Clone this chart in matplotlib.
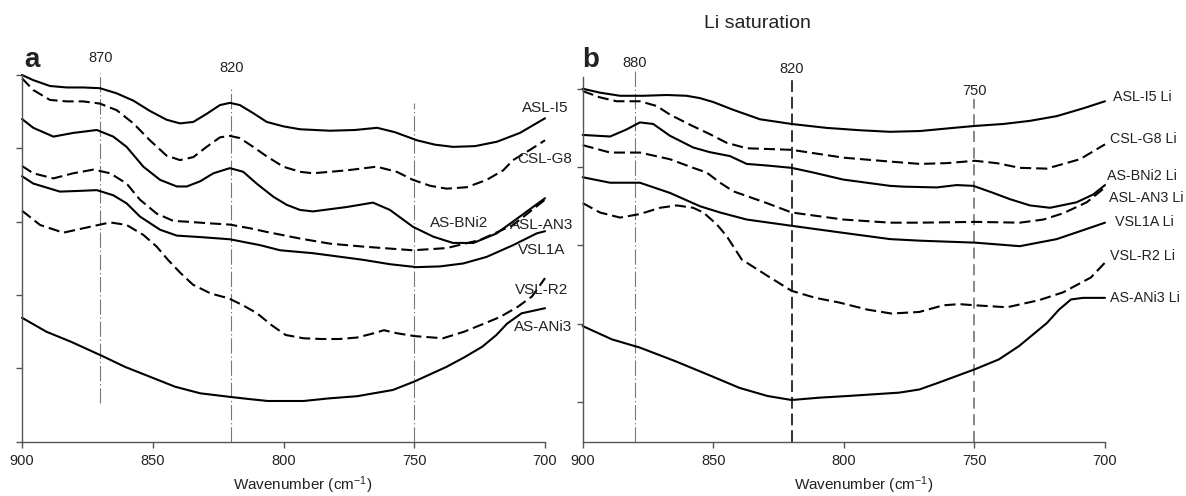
import matplotlib
matplotlib.use('agg')
import matplotlib.pyplot as plt

plt.rcParams['font.family'] = ['Liberation Sans', 'DejaVu Sans']
plt.rcParams['lines.scale_dashes'] = False
plt.rcParams['mathtext.default'] = 'regular'

# ---- panel a : untreated samples (wavenumber, relative absorbance) ----
a_names = ['ASL-I5', 'CSL-G8', 'AS-BNi2', 'ASL-AN3', 'VSL1A', 'VSL-R2', 'AS-ANi3']
a_dashed = [False, True, False, True, False, True, False]
a_wn = [
    [900, 895.7, 889.3, 882.9, 876.6, 870.2, 863.8, 857.4, 851.1, 844.7, 839.6, 834.5, 829.4, 824.3,
     820.5, 816.7, 811.6, 806.4, 800.1, 793.7, 782.2, 772.7, 764.2, 757.4, 749, 742.1, 735.2, 726.8,
     718.4, 709.6, 700],
    [900, 895.7, 889.3, 882.9, 876.6, 870.2, 863.8, 857.4, 851.1, 844.7, 839.6, 834.5, 829.4, 824.3,
     820.5, 816.7, 811.6, 806.4, 800.1, 793.7, 788.7, 775.8, 764.4, 756.7, 750.5, 744, 737.6, 729.9,
     722.3, 716, 712.2, 705.7, 700],
    [900, 895.7, 888, 880.4, 871.4, 865.1, 860, 853.6, 847.2, 840.8, 837, 831.9, 826.8, 820.5, 815.4,
     810.3, 803.9, 798.8, 793.7, 788.7, 775.8, 765.8, 759.3, 750.5, 742.7, 735.2, 727.4, 718.5, 709.6, 700],
    [900, 895.7, 888, 880.4, 872.7, 866.3, 860, 854.9, 848.5, 842.1, 837, 829.4, 820.5, 812.8, 806.4,
     793.7, 782.2, 769.5, 750.5, 737.6, 724.9, 712.2, 700],
    [900, 895.7, 885.5, 877.8, 871.4, 865.1, 860, 854.9, 847.2, 840.8, 831.9, 820.5, 809, 801.3, 788.7,
     769.6, 759.3, 749.1, 740.2, 731.3, 722.3, 712.2, 703.2, 700],
    [900, 893.1, 884.2, 875.3, 866.3, 860, 853.6, 848.5, 844.2, 839.4, 834.6, 827.8, 821, 815.5, 810.1,
     804.6, 799.2, 792.3, 785.5, 778.7, 771.9, 766.4, 761.6, 756.8, 750, 739, 730.9, 724, 717.2, 710.4,
     705, 700],
    [900, 890.7, 881.1, 868.8, 860.6, 851.1, 841.5, 831.9, 820.3, 812.8, 806, 792.3, 782.8, 771.9, 758.2,
     750, 737.7, 730.9, 724, 718.6, 714.5, 709, 700],
]
a_abs = [
    [5.00, 4.93, 4.85, 4.83, 4.83, 4.82, 4.75, 4.65, 4.51, 4.39, 4.34, 4.36, 4.47, 4.59,
     4.62, 4.59, 4.48, 4.36, 4.30, 4.26, 4.24, 4.25, 4.28, 4.22, 4.11, 4.05, 4.02, 4.03,
     4.09, 4.21, 4.41],
    [4.955, 4.795, 4.66, 4.64, 4.64, 4.61, 4.52, 4.34, 4.11, 3.90, 3.84, 3.88, 4.02, 4.15,
     4.17, 4.14, 4.02, 3.89, 3.75, 3.68, 3.66, 3.70, 3.75, 3.68, 3.57, 3.49, 3.45, 3.47,
     3.57, 3.70, 3.84, 3.98, 4.11],
    [4.40, 4.28, 4.16, 4.21, 4.25, 4.16, 4.02, 3.75, 3.57, 3.48, 3.48, 3.55, 3.66, 3.73, 3.68,
     3.52, 3.34, 3.23, 3.16, 3.14, 3.20, 3.26, 3.16, 2.93, 2.795, 2.71, 2.71, 2.84, 3.07, 3.32],
    [3.76, 3.66, 3.59, 3.66, 3.71, 3.66, 3.52, 3.30, 3.11, 3.01, 3.00, 2.98, 2.96, 2.91, 2.86,
     2.77, 2.70, 2.66, 2.61, 2.64, 2.75, 2.955, 3.30],
    [3.62, 3.52, 3.41, 3.42, 3.43, 3.36, 3.25, 3.07, 2.89, 2.81, 2.79, 2.76, 2.68, 2.61, 2.57,
     2.48, 2.42, 2.38, 2.39, 2.43, 2.52, 2.68, 2.84, 2.87],
    [3.15, 2.955, 2.85, 2.92, 2.99, 2.955, 2.82, 2.66, 2.48, 2.30, 2.14, 2.02, 1.955, 1.86, 1.75,
     1.59, 1.455, 1.41, 1.40, 1.40, 1.42, 1.47, 1.52, 1.48, 1.44, 1.41, 1.50, 1.60, 1.70, 1.84,
     1.98, 2.23],
    [1.69, 1.50, 1.36, 1.16, 1.02, 0.886, 0.75, 0.66, 0.61, 0.58, 0.555, 0.555, 0.59, 0.62, 0.705,
     0.82, 1.02, 1.15, 1.295, 1.455, 1.61, 1.75, 1.82],
]
a_bands = [870, 820, 750]
a_band_labels = ['870', '820', '']

# ---- panel b : Li saturated samples ----
b_names = ['ASL-I5 Li', 'CSL-G8 Li', 'AS-BNi2 Li', 'ASL-AN3 Li', 'VSL1A Li', 'VSL-R2 Li', 'AS-ANi3 Li']
b_dashed = [False, True, False, True, False, True, False]
b_wn = [
    [900, 893.4, 885.7, 876.8, 867.8, 860.2, 855.1, 850, 842.3, 832.1, 820, 806.6, 793.8, 782.3,
     770.8, 758.1, 749.8, 738.9, 728.7, 718.5, 708.3, 700],
    [900, 893.4, 887, 878.1, 871.7, 866.6, 858.9, 851.3, 844.9, 837.2, 820, 800.2, 782.3, 770.8,
     760.6, 749.8, 741.5, 732.6, 722.3, 709.6, 700],
    [900, 889.5, 883.2, 878.1, 873, 866.6, 857.7, 851.3, 843.6, 837.2, 829.5, 820, 811.7, 800.2,
     782.3, 777.2, 764.4, 756.8, 750.4, 742.8, 736.4, 728.7, 721, 710.9, 704.5, 700],
    [900, 889.5, 878.1, 866.6, 857.7, 852.5, 847.4, 842.3, 837.2, 829.5, 820, 800.2, 782.3, 770.8,
     749.8, 732.6, 723.6, 716, 707, 700],
    [900, 889.5, 878.1, 866.6, 855.1, 847.4, 837.2, 820, 800.2, 782.3, 770.8, 749.8, 732.6, 718.5,
     707, 700],
    [900, 893.4, 885.7, 878.1, 870.4, 864, 857.7, 853.8, 848.7, 844.9, 839.1, 829.2, 820, 810.9,
     801.7, 791, 781.8, 771.1, 761.9, 755.8, 749.7, 737.5, 725.3, 716.1, 705.4, 700],
    [900, 888.8, 878.1, 864.4, 850.6, 839.9, 829.2, 820, 809.3, 798.6, 778.8, 771.1, 763.5, 749.7,
     740.6, 732.9, 722.2, 717.6, 713, 708.4, 700],
]
b_abs = [
    [4.00, 3.95, 3.91, 3.91, 3.92, 3.91, 3.88, 3.83, 3.73, 3.61, 3.55, 3.50, 3.47, 3.45,
     3.46, 3.50, 3.525, 3.55, 3.59, 3.65, 3.75, 3.84],
    [3.97, 3.89, 3.84, 3.84, 3.78, 3.67, 3.54, 3.42, 3.31, 3.24, 3.22, 3.12, 3.07, 3.04,
     3.05, 3.08, 3.05, 2.99, 2.98, 3.10, 3.29],
    [3.41, 3.39, 3.48, 3.57, 3.55, 3.40, 3.25, 3.19, 3.14, 3.04, 3.02, 2.99, 2.93, 2.84,
     2.76, 2.75, 2.74, 2.77, 2.76, 2.67, 2.59, 2.51, 2.48, 2.55, 2.65, 2.77],
    [3.28, 3.185, 3.185, 3.10, 2.99, 2.93, 2.80, 2.69, 2.63, 2.54, 2.42, 2.33, 2.29, 2.29,
     2.30, 2.29, 2.33, 2.41, 2.55, 2.74],
    [2.87, 2.80, 2.80, 2.67, 2.50, 2.42, 2.33, 2.25, 2.16, 2.08, 2.06, 2.035, 1.99, 2.08,
     2.21, 2.29],
    [2.54, 2.42, 2.355, 2.40, 2.48, 2.51, 2.48, 2.42, 2.27, 2.12, 1.82, 1.61, 1.42, 1.33,
     1.27, 1.18, 1.13, 1.15, 1.235, 1.25, 1.235, 1.21, 1.30, 1.40, 1.59, 1.78],
    [0.97, 0.80, 0.695, 0.52, 0.33, 0.18, 0.077, 0.026, 0.056, 0.077, 0.12, 0.16, 0.25, 0.42,
     0.545, 0.715, 1.01, 1.18, 1.31, 1.33, 1.33],
]
b_bands = [880, 820, 750]
b_band_labels = ['880', '820', '750']

xticks = [900, 850, 800, 750, 700]

# label placement (wavenumber of left edge, vertical centre)
a_label_pos = [(708.8, 4.55), (710.7, 3.86), (744.0, 2.98), (713.4, 2.955),
               (710.3, 2.61), (711.5, 2.07), (711.9, 1.56)]
b_label_pos = [(697.1, 3.89), (698.1, 3.355), (699.1, 2.89), (698.5, 2.61),
               (696.2, 2.30), (698.1, 1.865), (698.1, 1.33)]

TXT = '#222222'
SPINE = '#555555'
CURVE_DASH = (0, (8.0, 3.6))

fig = plt.figure(figsize=(11.86, 4.96), dpi=100)
ax1 = fig.add_axes([0.01855, 0.1095, 0.4410, 0.7393])
ax2 = fig.add_axes([0.4913, 0.1089, 0.4404, 0.7359])


def style_axis(ax, ylim, yticks):
    ax.set_xlim(900, 700)
    ax.set_ylim(*ylim)
    ax.set_xticks(xticks)
    ax.set_xticklabels([str(t) for t in xticks], fontsize=10.5, color=TXT)
    ax.set_yticks(yticks)
    ax.set_yticklabels([])
    for s in ['top', 'right']:
        ax.spines[s].set_visible(False)
    for s in ['left', 'bottom']:
        ax.spines[s].set_color(SPINE)
        ax.spines[s].set_linewidth(1.0)
    ax.tick_params(direction='out', length=4, width=1.0, color=SPINE, pad=5)
    ax.text(0.537, -0.118, 'Wavenumber (cm$^{-1}$)', transform=ax.transAxes,
            fontsize=11, color=TXT, ha='center', va='center')
    ax.patch.set_alpha(0)


def draw_curves(ax, wns, vals, dashed, names, pos, fs):
    for w, v, d, n, p in zip(wns, vals, dashed, names, pos):
        ax.plot(w, v, color='black', lw=1.5, ls=CURVE_DASH if d else '-',
                solid_joinstyle='round', solid_capstyle='round',
                dash_joinstyle='round', clip_on=False)
        ax.text(p[0], p[1], n, fontsize=fs, color=TXT, ha='left', va='center', clip_on=False)


# ---- panel a ----
style_axis(ax1, (0, 5), [0, 1, 2, 3, 4, 5])
a_vspan = [(0.53, 5.03), (0.0, 4.81), (0.0, 4.62)]
for b, lab, (y0, y1) in zip(a_bands, a_band_labels, a_vspan):
    ax1.vlines(b, y0, y1, colors='#777777', lw=0.8, linestyles=[(0, (11, 2, 1, 2))], clip_on=False)
a_lab_y = [5.14, 5.0, 5.0]
for b, lab, y in zip(a_bands, a_band_labels, a_lab_y):
    if lab:
        ax1.text(b, y, lab, fontsize=10.5, color=TXT, ha='center', va='bottom', clip_on=False)
draw_curves(ax1, a_wn, a_abs, a_dashed, a_names, a_label_pos, 11)

# ---- panel b ----
style_axis(ax2, (-0.51, 4.15), [0, 1, 2, 3, 4])
b_vstyle = [dict(colors='#777777', lw=0.8, linestyles=[(0, (11, 2, 1, 2))]),
            dict(colors='#111111', lw=1.2, linestyles=[(0, (8.5, 3.5))]),
            dict(colors='#888888', lw=1.4, linestyles=[(0, (8, 4))])]
b_vtop = [4.22, 4.16, 3.87]
for b, st, top in zip(b_bands, b_vstyle, b_vtop):
    ax2.vlines(b, -0.51, top, clip_on=False, **st)
b_lab_y = [4.24, 4.16, 3.88]
for b, lab, y in zip(b_bands, b_band_labels, b_lab_y):
    ax2.text(b, y, lab, fontsize=10.5, color=TXT, ha='center', va='bottom', clip_on=False)
draw_curves(ax2, b_wn, b_abs, b_dashed, b_names, b_label_pos, 10.3)

# panel letters and title
fig.text(0.0202, 0.865, 'a', fontsize=20, fontweight='bold', color=TXT, ha='left', va='baseline')
fig.text(0.4907, 0.865, 'b', fontsize=20, fontweight='bold', color=TXT, ha='left', va='baseline')
fig.text(0.639, 0.9536, 'Li saturation', fontsize=14, color=TXT, ha='center', va='center')

fig.savefig('out.png', dpi=100)
plt.close(fig)
